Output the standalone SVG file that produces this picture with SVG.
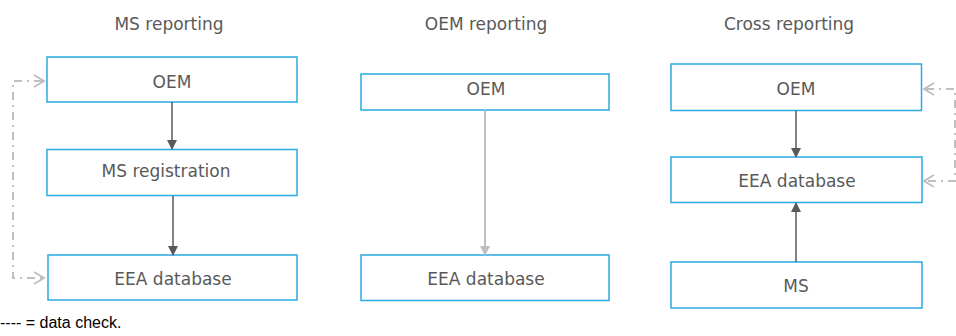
<svg xmlns="http://www.w3.org/2000/svg" width="956" height="336" viewBox="0 0 956 336">
<defs>
<style>
.box{fill:#fff;stroke:#29abe2;stroke-width:1.5}
.t{font-family:"DejaVu Sans","Liberation Sans",sans-serif;font-size:17px;fill:#595959;text-anchor:middle}
.title{font-family:"DejaVu Sans","Liberation Sans",sans-serif;font-size:17px;fill:#595959;text-anchor:middle}
.dark{stroke:#595959;stroke-width:1.5;fill:none}
.light{stroke:#bfbfbf;stroke-width:2;fill:none}
.dd{stroke:#bfbfbf;stroke-width:2;fill:none;stroke-dasharray:8 5 2 5}
.chev{stroke:#bfbfbf;stroke-width:2;fill:none}
</style>
<marker id="ad" markerWidth="10" markerHeight="10" refX="9" refY="5" orient="auto" markerUnits="userSpaceOnUse">
<path d="M0,0 L10,5 L0,10 Z" fill="#595959"/>
</marker>
<marker id="al" markerWidth="10" markerHeight="10" refX="9" refY="5" orient="auto" markerUnits="userSpaceOnUse">
<path d="M0,0 L10,5 L0,10 Z" fill="#bfbfbf"/>
</marker>
</defs>
<text class="title" x="169" y="30">MS reporting</text>
<text class="title" x="486" y="30">OEM reporting</text>
<text class="title" x="789" y="30">Cross reporting</text>
<g id="ms-oem"><rect class="box" x="47" y="57" width="250" height="45"/><text class="t" x="172" y="88">OEM</text></g>
<g id="ms-reg"><rect class="box" x="47" y="149.5" width="250" height="46"/><text class="t" x="166" y="177">MS registration</text></g>
<g id="ms-eea"><rect class="box" x="48" y="255" width="249" height="45"/><text class="t" x="173" y="285">EEA database</text></g>
<g id="oem-oem"><rect class="box" x="361" y="74" width="248" height="36"/><text class="t" x="486" y="95">OEM</text></g>
<g id="oem-eea"><rect class="box" x="361" y="255" width="248" height="45.5"/><text class="t" x="486" y="285">EEA database</text></g>
<g id="cr-oem"><rect class="box" x="671" y="64" width="250.5" height="46.5"/><text class="t" x="796" y="95">OEM</text></g>
<g id="cr-eea"><rect class="box" x="671" y="157" width="251" height="45.5"/><text class="t" x="797" y="187">EEA database</text></g>
<g id="cr-ms"><rect class="box" x="671" y="262" width="251" height="46"/><text class="t" x="796" y="292">MS</text></g>
<g id="connectors">
<line class="dark" x1="172" y1="102" x2="172" y2="149" marker-end="url(#ad)"/>
<line class="dark" x1="173" y1="196" x2="173" y2="255" marker-end="url(#ad)"/>
<line class="light" x1="485" y1="110" x2="485" y2="255" marker-end="url(#al)"/>
<line class="dark" x1="796" y1="110.5" x2="796" y2="157" marker-end="url(#ad)"/>
<line class="dark" x1="796" y1="262" x2="796" y2="203" marker-end="url(#ad)"/>
<path class="dd" d="M42,81 H13 V278 H42"/>
<path class="chev" d="M34,75 L44,81 L34,87 M34,272 L44,278 L34,284"/>
<path class="dd" d="M926,89 H955 V181 H926"/>
<path class="chev" d="M934,83 L924,89 L934,95 M934,175 L924,181 L934,187"/>
</g>
<text x="0" y="328" font-family="Liberation Sans, Arial, sans-serif" font-size="16" fill="#000">---- = data check.</text>
</svg>
